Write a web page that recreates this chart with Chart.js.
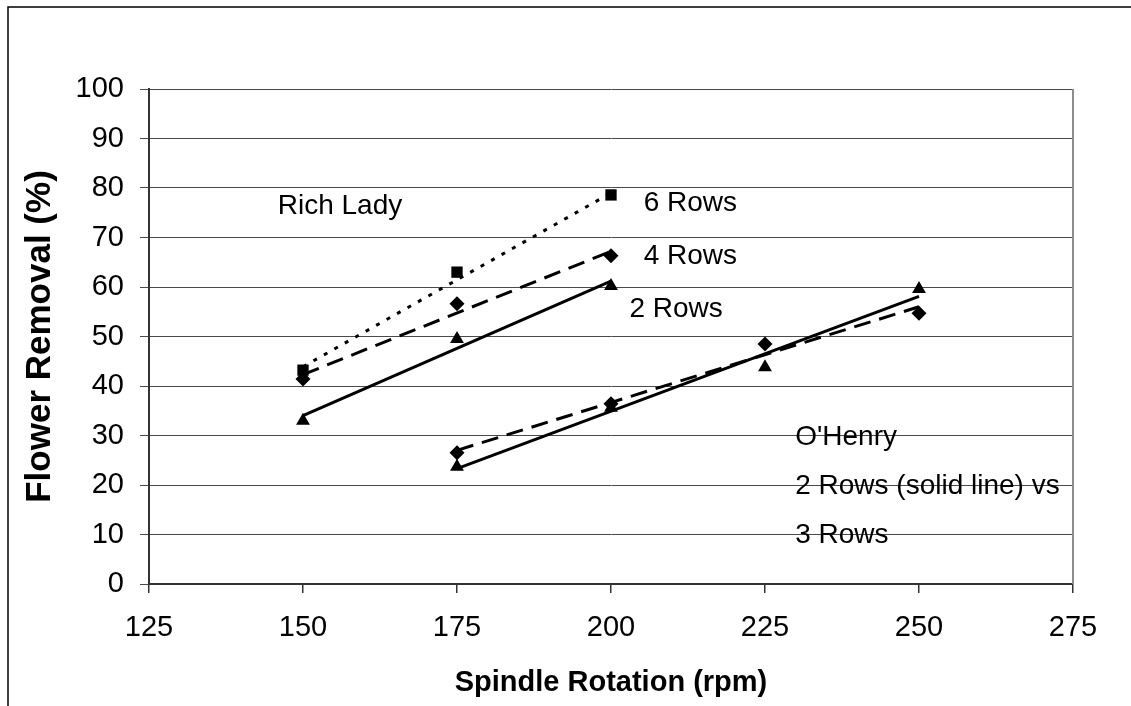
<!DOCTYPE html>
<html>
<head>
<meta charset="utf-8">
<script src="https://cdn.jsdelivr.net/npm/chart.js@4"></script>
<style>
  html, body { margin: 0; padding: 0; background: #fff; }
  #wrap { width: 1131px; height: 706px; }
</style>
</head>
<body>
<div id="wrap"><canvas id="chartFlower" width="1131" height="706"></canvas></div>
<script>
// values
const rpmRichLady = [150, 175, 200];
const richLady6Rows = [43.2, 63.0, 78.6];
const richLady4Rows = [41.4, 56.6, 66.3];
const richLady2Rows = [33.0, 49.5, 60.2];

const rpmOHenry = [175, 200, 225, 250];
const oHenry2Rows = [23.7, 35.6, 43.8, 59.6];
const oHenry3Rows = [26.5, 36.4, 48.5, 54.7];

// trend line end points (as drawn in the picture)
const richLadyTrendRpm = [150, 200];
const richLady6Trend = [43.9, 79.0];
const richLady4Trend = [42.3, 67.2];
const richLady2Trend = [34.0, 61.2];
const oHenryTrendRpm = [175, 250];
const oHenry2Trend = [23.3, 58.1];
const oHenry3Trend = [27.0, 56.0];

const xTicks = [125, 150, 175, 200, 225, 250, 275];
const yTicks = [0, 10, 20, 30, 40, 50, 60, 70, 80, 90, 100];

// text notes in data units: [text, rpm, percent]
const notes = [
    ['Rich Lady', 145.9, 76.4],
    ['6 Rows', 205.3, 77.0],
    ['4 Rows', 205.3, 66.3],
    ['2 Rows', 203.0, 55.4],
    ["O'Henry", 229.9, 29.7],
    ['2 Rows (solid line) vs', 229.9, 19.8],
    ['3 Rows', 229.9, 9.9]
];

function pairs(xs, ys) {
    return xs.map((x, i) => ({ x: x, y: ys[i] }));
}

function markerSet(xs, ys, style, radius) {
    return {
        data: pairs(xs, ys),
        showLine: false,
        pointStyle: style,
        pointRadius: radius,
        pointBackgroundColor: '#000',
        pointBorderColor: '#000',
        pointBorderWidth: 0,
        order: 0
    };
}

function trendSet(xs, ys, dash) {
    return {
        data: pairs(xs, ys),
        showLine: true,
        borderColor: '#000',
        borderWidth: 3,
        borderDash: dash,
        pointRadius: 0,
        order: 1
    };
}

const FONT = "'Liberation Sans', Arial, sans-serif";

const frameAndNotes = {
    id: 'frameAndNotes',
    beforeDraw(chart) {
        const ctx = chart.ctx;
        ctx.save();
        ctx.strokeStyle = '#000';
        ctx.lineWidth = 1.5;
        ctx.strokeRect(8, 7, 1300, 900);
        ctx.restore();
    },
    afterDatasetsDraw(chart) {
        const ctx = chart.ctx;
        const area = chart.chartArea;
        const xs = chart.scales.x;
        const ys = chart.scales.y;
        ctx.save();
        ctx.strokeStyle = '#8c8c8c';
        ctx.lineWidth = 2;
        ctx.beginPath();
        ctx.moveTo(area.right, area.top);
        ctx.lineTo(area.right, area.bottom);
        ctx.stroke();

        ctx.fillStyle = '#000';
        ctx.font = '28px ' + FONT;
        ctx.textAlign = 'left';
        ctx.textBaseline = 'middle';
        notes.forEach(n => {
            ctx.fillText(n[0], xs.getPixelForValue(n[1]), ys.getPixelForValue(n[2]));
        });
        ctx.restore();
    }
};

function initFlowerChart() {
    const canvas = document.getElementById('chartFlower');
    new Chart(canvas, {
        type: 'scatter',
        data: {
            datasets: [
                markerSet(rpmRichLady, richLady6Rows, 'rect', 8),
                markerSet(rpmRichLady, richLady4Rows, 'rectRot', 7.5),
                markerSet(rpmRichLady, richLady2Rows, 'triangle', 8),
                markerSet(rpmOHenry, oHenry2Rows, 'triangle', 8),
                markerSet(rpmOHenry, oHenry3Rows, 'rectRot', 7.5),
                trendSet(richLadyTrendRpm, richLady6Trend, [4, 8]),
                trendSet(richLadyTrendRpm, richLady4Trend, [17, 9]),
                trendSet(richLadyTrendRpm, richLady2Trend, []),
                trendSet(oHenryTrendRpm, oHenry2Trend, []),
                trendSet(oHenryTrendRpm, oHenry3Trend, [17, 9])
            ]
        },
        options: {
            responsive: false,
            animation: false,
            layout: { padding: { left: 0, top: 89, right: 58, bottom: 0 } },
            plugins: {
                legend: { display: false },
                tooltip: { enabled: false }
            },
            scales: {
                x: {
                    type: 'linear',
                    min: 125,
                    max: 275,
                    afterBuildTicks: (scale) => { scale.ticks = xTicks.map(v => ({ value: v })); },
                    afterFit: (scale) => { scale.height = 122; },
                    grid: { drawOnChartArea: false, color: '#333', tickLength: 9, lineWidth: 1.5 },
                    border: { color: '#333', width: 2 },
                    ticks: { color: '#000', font: { family: FONT, size: 29 }, padding: 18, maxRotation: 0 },
                    title: {
                        display: true,
                        text: 'Spindle Rotation (rpm)',
                        color: '#000',
                        font: { family: FONT, size: 29, weight: 'bold' },
                        padding: { top: 0, bottom: 6 }
                    }
                },
                y: {
                    min: 0,
                    max: 100,
                    afterBuildTicks: (scale) => { scale.ticks = yTicks.map(v => ({ value: v })); },
                    afterFit: (scale) => { scale.width = 149; },
                    grid: { color: '#4a4a4a', tickLength: 9, lineWidth: 1 },
                    border: { color: '#333', width: 2 },
                    ticks: { color: '#000', font: { family: FONT, size: 29 }, padding: 16 },
                    title: {
                        display: true,
                        text: 'Flower Removal (%)',
                        color: '#000',
                        font: { family: FONT, size: 35, weight: 'bold' },
                        padding: { top: 19, bottom: 0 }
                    }
                }
            }
        },
        plugins: [frameAndNotes]
    });
}

window.addEventListener('load', initFlowerChart);
</script>
</body>
</html>
